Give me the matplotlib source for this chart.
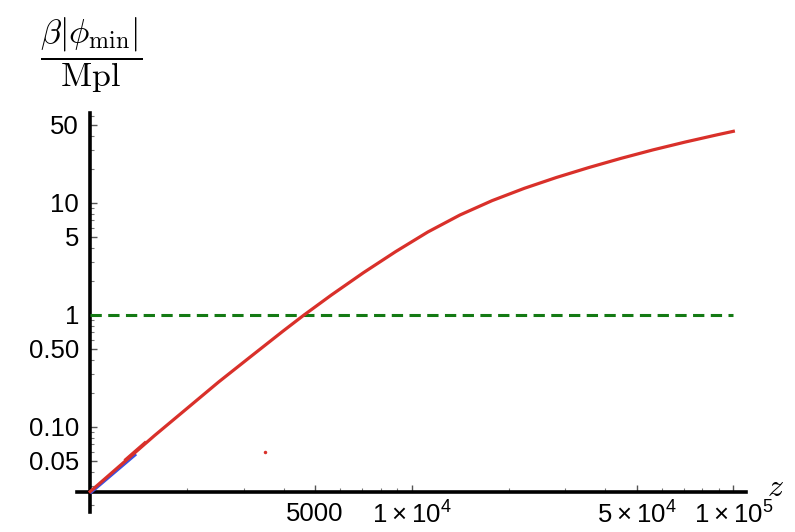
import matplotlib
matplotlib.use("Agg")
import matplotlib.pyplot as plt
from matplotlib.ticker import FixedLocator, FixedFormatter, NullFormatter

# ---- data -------------------------------------------------------------
z_main = [1000, 1259, 1585, 1995, 2512, 3162, 3981, 4603, 5623, 7079, 8913,
          11220, 14125, 17783, 22387, 28184, 35481, 44668, 56234, 70795,
          89125, 100000]
phi_main = [0.0265, 0.0471, 0.0838, 0.1455, 0.253, 0.427, 0.719, 0.99,
            1.507, 2.388, 3.681, 5.508, 7.816, 10.50, 13.52, 16.90, 20.70,
            25.00, 29.79, 34.99, 40.64, 43.65]

z_branch = [1290, 1480]
phi_branch = [0.0512, 0.0722]

z_blue = [1000, 1390]
phi_blue = [0.0256, 0.0572]

z_dot = [3500]
phi_dot = [0.0598]

z_ref = [1000, 100000]
phi_ref = [1.0, 1.0]

x_major = [5000, 10000, 50000, 100000]
x_labels = ["5000", r"$\mathregular{1\times10^{4}}$",
            r"$\mathregular{5\times10^{4}}$", r"$\mathregular{1\times10^{5}}$"]
y_major = [0.05, 0.1, 0.5, 1, 5, 10, 50]
y_labels = ["0.05", "0.10", "0.50", "1", "5", "10", "50"]

x_minor = [m * d for d in (1000, 10000) for m in range(2, 10)]
y_minor = [m * d for d in (0.01, 0.1, 1, 10) for m in range(2, 10)
           if 0.018 < m * d < 63]

# ---- figure -----------------------------------------------------------
W, H = 795, 532
fig = plt.figure(figsize=(W / 100, H / 100), dpi=100)
left, right, top, bottom = 77, 746, 113, 512
ax = fig.add_axes([left / W, 1 - bottom / H, (right - left) / W, (bottom - top) / H])
ax.set_xscale("log")
ax.set_yscale("log")
ax.set_xlim(910, 1.095e5)
ax.set_ylim(0.01742, 63.6)

red = "#d9302a"
green = "#147a14"
blue = "#3b50e0"

ax.plot(z_blue, phi_blue, color=blue, lw=2.0, solid_capstyle="butt", zorder=3)
ax.plot(z_main, phi_main, color=red, lw=2.3, zorder=4)
ax.plot(z_branch, phi_branch, color=red, lw=2.3, zorder=4)
ax.plot(z_dot, phi_dot, "o", color=red, ms=2.5, mec="none", zorder=4)
ax.plot(z_ref, phi_ref, color=green, lw=2.2, linestyle=(0, (3.7, 2.1)), zorder=3)

# axes crossing at the origin, Mathematica style
for s in ("top", "right"):
    ax.spines[s].set_visible(False)
ax.spines["left"].set_position(("data", 1000))
ax.spines["bottom"].set_position(("data", 0.0263))
for s in ("left", "bottom"):
    ax.spines[s].set_linewidth(2.6)
    ax.spines[s].set_color("black")

ax.xaxis.set_major_locator(FixedLocator(x_major))
ax.xaxis.set_major_formatter(FixedFormatter(x_labels))
ax.xaxis.set_minor_locator(FixedLocator(x_minor))
ax.xaxis.set_minor_formatter(NullFormatter())
ax.yaxis.set_major_locator(FixedLocator(y_major))
ax.yaxis.set_major_formatter(FixedFormatter(y_labels))
ax.yaxis.set_minor_locator(FixedLocator(y_minor))
ax.yaxis.set_minor_formatter(NullFormatter())

ax.tick_params(which="major", direction="in", length=5, width=1.0,
               color="#555555", labelsize=18.5)
ax.tick_params(axis="y", which="major", pad=8)
ax.tick_params(axis="x", which="major", pad=7)
ax.tick_params(which="minor", direction="in", length=2.8, width=0.8,
               color="#777777")
for lab in ax.get_xticklabels() + ax.get_yticklabels():
    lab.set_fontfamily(["Liberation Sans", "DejaVu Sans"])

# axis labels
fig.text(91 / W, 1 - 55 / H, r"$\dfrac{\beta|\phi_{\min}|}{\mathrm{Mpl}}$",
         ha="center", va="center", fontsize=24.5, math_fontfamily="cm")
fig.text(775 / W, 1 - 488 / H, r"$z$", ha="center", va="center",
         fontsize=23, math_fontfamily="cm")

fig.savefig("out.png", dpi=100, facecolor="white")
